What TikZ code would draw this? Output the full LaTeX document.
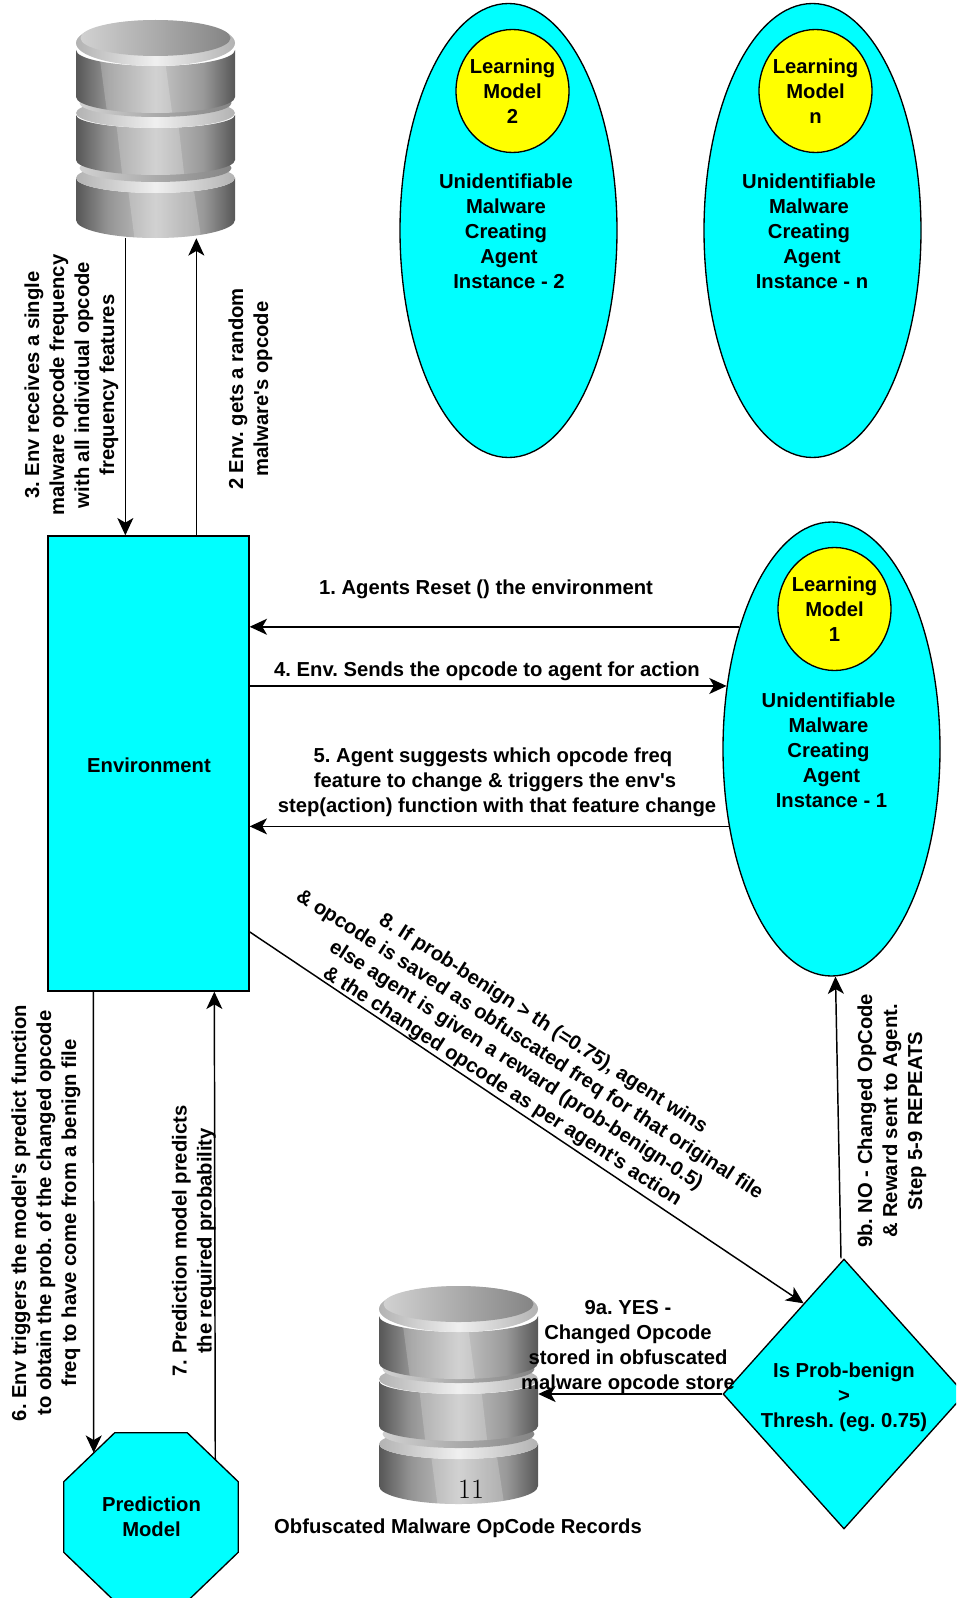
\documentclass[tikz,border=0pt]{standalone}
\usepackage{fontspec}
\setsansfont{Liberation Sans}
\usetikzlibrary{shapes.geometric,arrows.meta,calc}
\definecolor{aquafill}{RGB}{0,255,255}
\definecolor{yellowfill}{RGB}{255,255,0}
\pgfdeclarehorizontalshading{dbside}{100bp}{
  color(0bp)=(black!66); color(25bp)=(black!66); color(35bp)=(black!42); color(50bp)=(black!22);
  color(65bp)=(black!40); color(75bp)=(black!66); color(100bp)=(black!66)}
\pgfdeclarehorizontalshading{dbring}{100bp}{
  color(0bp)=(black!30); color(25bp)=(black!30); color(50bp)=(black!6); color(75bp)=(black!30); color(100bp)=(black!30)}
\pgfdeclarehorizontalshading{dbdisc}{100bp}{
  color(0bp)=(black!18); color(25bp)=(black!18); color(75bp)=(black!48); color(100bp)=(black!48)}
\newcommand{\dbpath}[4]{(0,#1) -- (0,#2) arc[start angle=180,end angle=0,x radius=79.5,y radius=#4] -- (159,#1) arc[start angle=0,end angle=180,x radius=79.5,y radius=#3] -- cycle}
\newcommand{\dbbody}[8]{%
  \shade[shading=dbside] \dbpath{#1}{#2}{#3}{#4};
  \begin{scope}
    \clip \dbpath{#1}{#2}{#3}{#4};
    \fill[white,opacity=.2] (#5,#1-20) -- (#6,#2+30) -- (#8,#2+30) -- (#7,#1-20) -- cycle;
  \end{scope}}
\tikzset{
  lbl/.style={font=\fontsize{15.17}{18.75}\selectfont\sffamily\bfseries\frenchspacing,align=center,inner sep=0pt,text=black},
  cyanshape/.style={draw=black,fill=aquafill,line width=1pt},
  agentbody/.style={cyanshape,ellipse,inner sep=0pt,minimum width=162.75pt,minimum height=340.5pt},
  modelbody/.style={draw=black,fill=yellowfill,line width=1pt,ellipse,inner sep=0pt,minimum width=84.75pt,minimum height=92.25pt},
  arr/.style={draw=black,line width=1.1pt,-{Stealth[length=13pt,width=12pt,inset=3.5pt]}},
  dbcyl/.pic={
    \dbbody{158}{200}{15}{18}{48}{60}{113}{127}
    \shade[shading=dbring] (79.5,158) ellipse[x radius=79.5,y radius=15];
    \shade[shading=dbdisc] (79.5,148) ellipse[x radius=76,y radius=14];
    \dbbody{95}{140}{13}{15}{37}{48}{99}{110}
    \shade[shading=dbring] (79.5,93) ellipse[x radius=79.5,y radius=15];
    \shade[shading=dbdisc] (79.5,83) ellipse[x radius=76,y radius=14];
    \dbbody{30}{77}{16}{16}{20}{33}{85}{98}
    \shade[shading=dbring] (79.5,23) ellipse[x radius=79.5,y radius=23];
    \shade[shading=dbdisc] (79.5,18) ellipse[x radius=75,y radius=18];
  }
}
\begin{document}
\begin{tikzpicture}[x=0.75pt,y=-0.75pt]
\clip (0,0) rectangle (956,1598);
\useasboundingbox (0,0) rectangle (956,1598);
% databases
\pic at (76,20) {dbcyl};
\pic at (379,1286) {dbcyl};
\node[inner sep=0pt,minimum width=119.25pt,minimum height=163.5pt] (db1) at (155.5,129) {};
\node[inner sep=0pt,minimum width=119.25pt,minimum height=163.5pt] (db2) at (458.5,1395) {};
% agents
\node[agentbody] (agent2) at (508.5,230.5) {};
\node[agentbody] (agentn) at (812.5,230.5) {};
\node[agentbody] (agent1) at (831.5,749) {};
\node[modelbody] (model2) at (512.5,91) {};
\node[modelbody] (modeln) at (815.5,91) {};
\node[modelbody] (model1) at (834.5,609) {};
\node[lbl] (mtext2) at (512.5,91.5) {Learning\\Model\\2};
\node[lbl] (mtextn) at (815.5,91.5) {Learning\\Model\\n};
\node[lbl] (mtext1) at (834.5,609.5) {Learning\\Model\\1};
\node[lbl] (text2) at (506,231) {Unidentifiable\\Malware\\Creating\\\hspace*{4.5pt}Agent\\\hspace*{4.5pt}Instance - 2};
\node[lbl] (textn) at (809,231) {Unidentifiable\\Malware\\Creating\\\hspace*{4.5pt}Agent\\\hspace*{4.5pt}Instance - n};
\node[lbl] (text1) at (828.5,750) {Unidentifiable\\Malware\\Creating\\\hspace*{4.5pt}Agent\\\hspace*{4.5pt}Instance - 1};
% environment
\node[cyanshape,inner sep=0pt,minimum width=150.75pt,minimum height=341.25pt] (env) at (148.5,763.5) {};
\node[lbl] (envtext) at (149,765) {Environment};
% threshold
\node[cyanshape,diamond,shape aspect=0.9,inner sep=0pt,minimum width=181.5pt,minimum height=202.5pt] (thresh) at (844,1394) {};
\node[lbl] (threshtext) at (844,1397) {Is Prob-benign\\>\\Thresh. (eg. 0.75)};
% prediction model
\node[inner sep=0pt,minimum width=130.5pt,minimum height=126pt] (pred) at (151,1517) {};
\path[cyanshape] ($(pred.north west)+(51,0)$) -- ($(pred.north east)+(-51,0)$) -- ($(pred.north east)+(0,49)$) -- ($(pred.south east)+(0,-49)$) -- ($(pred.south east)+(-51,0)$) -- ($(pred.south west)+(51,0)$) -- ($(pred.south west)+(0,-49)$) -- ($(pred.north west)+(0,49)$) -- cycle;
\node[lbl] (predtext) at (151.5,1517) {Prediction\\Model};
% connectors
\coordinate (e3) at ($(env.north west)+(78,0)$);
\coordinate (e2) at ($(env.north west)+(149,0)$);
\draw[arr] (db1.south -| e3) -- (e3);
\draw[arr] (e2) -- (db1.south -| e2);
\draw[arr] (agent1.127) -- (env.east |- agent1.127);
\draw[arr] (env.east |- agent1.149) -- (agent1.149);
\draw[arr] (agent1.217) -- (env.east |- agent1.217);
\coordinate (e6) at ($(env.south west)+(46,0)$);
\coordinate (p6) at ($(pred.north west)+(30,20)$);
\draw[arr] (e6) -- (p6);
\coordinate (e7) at ($(env.south west)+(167,0)$);
\coordinate (p7) at ($(pred.north east)+(-23,27)$);
\draw[arr] (p7) -- (e7);
\draw[arr] (env.-59.6) -- (thresh.114);
\draw[arr] ($(thresh.north)+(-3,0)$) -- (agent1.-89.1);
\draw[arr] (thresh.west) -- (db2.east |- thresh.west);
% labels
\node[lbl,rotate=90] (l3) at (71.5,385) {3. Env receives a single\\malware opcode frequency\\with all individual opcode\\frequency features};
\node[lbl,rotate=90] (l2) at (250.5,389) {2 Env. gets a random\\malware\textquotesingle s opcode};
\node[lbl] (l1) at (486,589) {1. Agents Reset () the environment};
\node[lbl] (l4) at (487,671) {4. Env. Sends the opcode to agent for action};
\node[lbl] (l5) at (497,782) {\hspace*{-6pt}5. Agent suggests which opcode freq\\\hspace*{-3pt}feature to change \& triggers the env\textquotesingle s\\step(action) function with that feature change};
\node[lbl,rotate=-33] (l8) at (522.5,1055.5) {8. If prob-benign > th (=0.75), agent wins\\\& opcode is saved as obfuscated freq for that original file\\else agent is given a reward (prob-benign-0.5)\\\& the changed opcode as per agent\textquotesingle s action};
\node[lbl,rotate=90] (l9b) at (892,1121) {9b. NO - Changed OpCode\\\& Reward sent to Agent.\\Step 5-9 REPEATS};
\node[lbl] (l9a) at (628,1347) {9a. YES -\\Changed Opcode\\stored in obfuscated\\malware opcode store};
\node[lbl] (lobf) at (458,1528) {Obfuscated Malware OpCode Records};
\node[lbl,rotate=90] (l6) at (46,1213) {6. Env triggers the model\textquotesingle s predict function\\to obtain the prob. of the changed opcode\\freq to have come from a benign file};
\node[lbl,rotate=90] (l7) at (194,1241) {7. Prediction model predicts\\the required probability};
\node[inner sep=0pt,font=\fontsize{21}{25}\selectfont\rmfamily] (pagenum) at (471,1489) {11};
\end{tikzpicture}
\end{document}
